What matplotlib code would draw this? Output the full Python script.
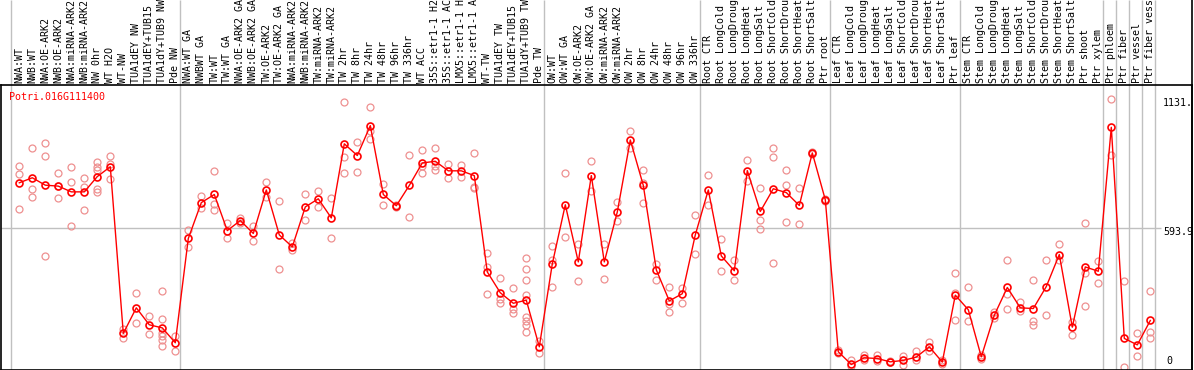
"""
Expression profile of Potri.016G111400 across poplar samples.
Mean per sample (red line + circles), replicates as faint circles.
"""
import matplotlib
matplotlib.use("Agg")
import matplotlib.pyplot as plt
from matplotlib.lines import Line2D

gene = "Potri.016G111400"

samples = [
    "NWA:WT", "NWB:WT", "NWA:OE-ARK2", "NWB:OE-ARK2", "NWA:miRNA-ARK2",
    "NWB:miRNA-ARK2", "NW 0hr", "WT H2O", "WT-NW", "TUA1dEY NW",
    "TUA1dEY+TUB15 NW", "TUA1dY+TUB9 NW", "Pde NW",
    "NWA:WT GA", "NWBWT GA", "TW:WT", "TW:WT GA", "NWA:OE-ARK2 GA",
    "NWB:OE-ARK2 GA", "TW:OE-ARK2", "TW:OE-ARK2 GA", "NWA:miRNA-ARK2",
    "NWB:miRNA-ARK2", "TW:miRNA-ARK2", "TW:miRNA-ARK2", "TW 2hr", "TW 8hr",
    "TW 24hr", "TW 48hr", "TW 96hr", "TW 336hr", "WT ACC",
    "35S::etr1-1 H2O", "35S::etr1-1 ACC", "LMX5::etr1-1 H2O",
    "LMX5::etr1-1 ACC", "WT-TW", "TUA1dEY TW", "TUA1dEY+TUB15 TW",
    "TUA1dY+TUB9 TW", "Pde TW",
    "OW:WT", "OW:WT GA", "OW:OE-ARK2", "OW:OE-ARK2 GA", "OW:miRNA-ARK2",
    "OW:miRNA-ARK2", "OW 2hr", "OW 8hr", "OW 24hr", "OW 48hr", "OW 96hr",
    "OW 336hr",
    "Root CTR", "Root LongCold", "Root LongDrought", "Root LongHeat",
    "Root LongSalt", "Root ShortCold", "Root ShortDrought", "Root ShortHeat",
    "Root ShortSalt", "Ptr root",
    "Leaf CTR", "Leaf LongCold", "Leaf LongDrought", "Leaf LongHeat",
    "Leaf LongSalt", "Leaf ShortCold", "Leaf ShortDrought", "Leaf ShortHeat",
    "Leaf ShortSalt", "Ptr leaf",
    "Stem CTR", "Stem LongCold", "Stem LongDrought", "Stem LongHeat",
    "Stem LongSalt", "Stem ShortCold", "Stem ShortDrought", "Stem ShortHeat",
    "Stem ShortSalt", "Ptr shoot", "Ptr xylem",
    "Ptr phloem", "Ptr fiber", "Ptr vessel", "Ptr fiber vessel",
]

# first sample index of each group (gray separators)
group_starts = [0, 13, 41, 53, 63, 73, 84, 85, 86, 87, 88]

means = [
    781, 802, 771, 767, 743, 743, 807, 848, 151, 258, 187, 174, 112,
    548, 698, 732, 581, 623, 569, 751, 563, 513, 680, 714, 634, 944, 895,
    1020, 732, 685, 770, 864, 871, 831, 831, 811, 408, 321, 277, 290, 95,
    442, 689, 450, 811, 450, 659, 960, 770, 417, 287, 317, 563,
    751, 475, 413, 832, 661, 756, 740, 686, 906, 710,
    74, 21, 49, 46, 32, 38, 52, 95, 31, 311,
    250, 53, 227, 343, 258, 255, 347, 481, 177, 429, 411,
    1013, 130, 103, 205,
]

replicates = [
    [850, 817, 672], [927, 756, 722], [948, 894, 473], [823, 718, 767],
    [848, 786, 601], [802, 762, 668], [870, 848, 836, 754, 741],
    [894, 861, 797], [170, 133], [321, 195], [225, 149],
    [330, 210, 153, 139, 125, 100], [142, 79],
    [583, 513], [725, 676], [831, 693, 669], [611, 549], [634, 612],
    [602, 537], [785, 721], [703, 422], [530, 499], [732, 627], [747, 680],
    [718, 551], [1119, 889, 823], [952, 827], [1099, 997, 966], [774, 690],
    [690, 680], [899, 639], [920, 823, 850], [928, 835, 850], [860, 802],
    [854, 806], [906, 765, 760], [488, 428, 314], [383, 293, 279],
    [342, 255, 237], [467, 421, 375, 311, 220, 202, 188, 158], [118, 70],
    [517, 460, 347], [823, 555], [527, 371], [873, 747], [527, 379],
    [701, 623], [999, 927], [835, 778, 698], [443, 375], [347, 272, 240],
    [342, 277], [648, 484],
    [814, 687], [544, 410], [460, 376], [877, 790], [760, 626, 588],
    [927, 889, 446], [835, 770, 618], [760, 609], [910, 900], [715, 705],
    [80, 70], [38, 15], [62, 38], [62, 35], [35, 30], [55, 18], [77, 38],
    [116, 77], [38, 25], [404, 318, 208],
    [343, 204], [62, 45], [240, 215], [460, 317, 255], [284, 244],
    [376, 202, 185], [460, 230], [523, 460], [198, 146], [613, 404, 265],
    [453, 360],
    [1131, 898], [372, 11], [153, 56], [330, 156, 130],
]

ytick_vals = [0, 593.9, 1131]
ytick_text = ["0", "593.9", "1131."]

W, H = 1194, 370
mono = "DejaVu Sans Mono"
red = "#ff0000"
pink = "#ee9090"
gray = "#c0c0c0"

fig = plt.figure(figsize=(W / 100, H / 100), dpi=100)
# plot box: x 1..1192 px, y 85..369.5 px (from top)
ax = fig.add_axes([1 / W, 0.5 / H, 1191 / W, 284.5 / H])
x0, step = 19.3, 13.0   # pixel of first sample, spacing
ax.set_xlim((1 - x0) / step, (1192 - x0) / step)
ax.set_ylim(0, 1190)
ax.set_xticks([])
ax.set_yticks([])
for sp in ax.spines.values():
    sp.set_linewidth(1.2)
    sp.set_color("black")

xs = list(range(len(samples)))

# separators run through the label strip above the box
top_ext = 1 + 85 / 284.5
sep_x = [g - 8 / step for g in group_starts]
ax.vlines(sep_x, 0, top_ext, color=gray, lw=1,
          transform=ax.get_xaxis_transform(), clip_on=False, zorder=1)
ax.hlines(593.9, ax.get_xlim()[0], (1161 - x0) / step, color=gray, lw=1,
          zorder=1)

for x, reps in zip(xs, replicates):
    ax.plot([x] * len(reps), reps, ls="none", marker="o", ms=5,
            mfc="none", mec=pink, mew=0.9, zorder=2)

ax.plot(xs, means, color=red, lw=1, marker="o", ms=5, mfc="none",
        mec=red, mew=1.2, zorder=3)

# sample names, rotated, sitting on top of the box
for x, name in zip(xs, samples):
    ax.text(x, 1 + 2 / 284.5, name, rotation=90, ha="center", va="bottom",
            family=mono, fontsize=7.2, transform=ax.get_xaxis_transform(),
            clip_on=False)

ax.annotate(gene, xy=(0, 1), xycoords="axes fraction", xytext=(8, -12),
            textcoords="offset pixels", ha="left", va="center",
            family=mono, fontsize=7.2, color=red)

# value labels on the right
for v, t in zip(ytick_vals, ytick_text):
    if v == 0:
        ax.annotate(t, xy=((1166 - x0) / step, v), xytext=(0, 3),
                    textcoords="offset pixels", ha="left", va="bottom",
                    family=mono, fontsize=7.2, annotation_clip=False)
    else:
        ax.annotate(t, xy=((1163 - x0) / step, v), xytext=(0, -4),
                    textcoords="offset pixels", ha="left", va="center",
                    family=mono, fontsize=7.2, annotation_clip=False)

# right border continues up through the label strip
fig.add_artist(Line2D([1192 / W, 1192 / W], [0, 1], color="black", lw=1.2))

fig.savefig("out.png", dpi=100)
